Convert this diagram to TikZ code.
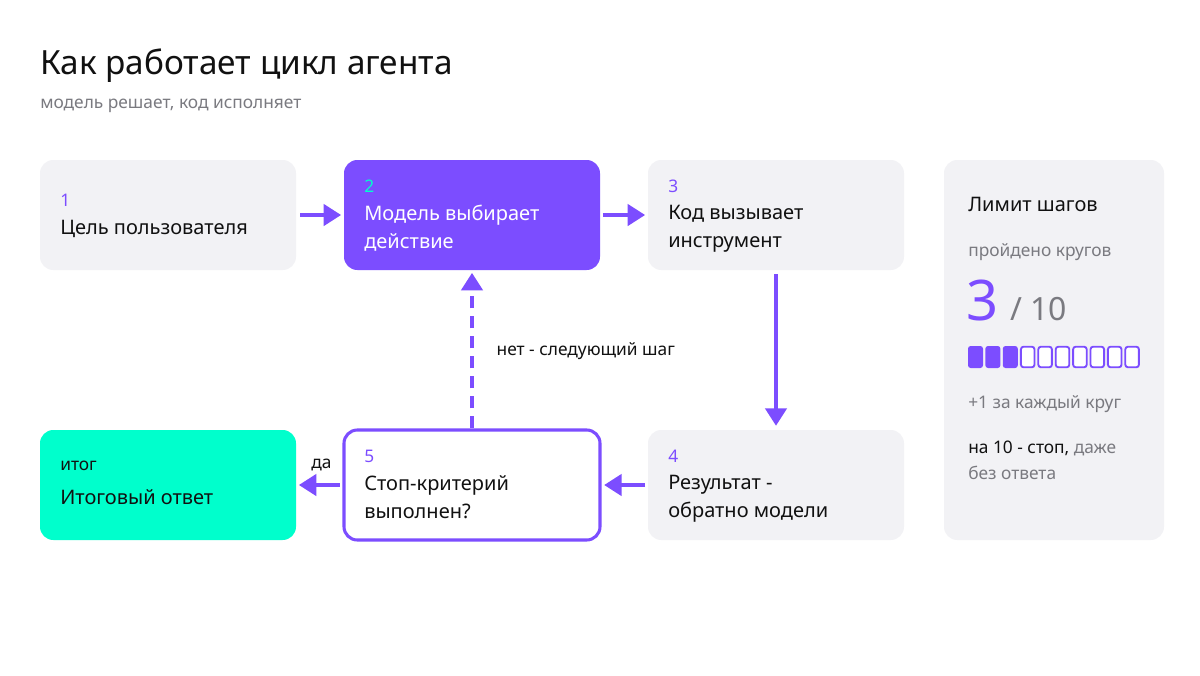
\documentclass[tikz,border=0pt]{standalone}
\usepackage{fontspec}
\setmainfont{Noto Sans}
\usetikzlibrary{arrows.meta, positioning}
\definecolor{accent}{HTML}{7C4DFF}
\definecolor{mint}{HTML}{00FFCC}
\definecolor{card}{HTML}{F2F2F5}
\definecolor{muted}{HTML}{7A7A80}
\definecolor{ink}{HTML}{111111}
\tikzset{
  stage/.style = {rectangle, rounded corners=10pt, fill=card, minimum width=192pt, minimum height=82.5pt, inner sep=0pt},
  num/.style = {anchor=west, inner sep=0pt, font=\fontsize{13}{15}\selectfont\bfseries, text=accent},
  txt/.style = {anchor=north west, inner sep=0pt, align=left, font=\fontsize{15}{21}\selectfont\bfseries, text=ink},
  flow/.style = {draw=accent, line width=2.3pt, -{Triangle[width=16pt,length=13pt]}},
}
\begin{document}
\begin{tikzpicture}[x=0.75pt, y=-0.75pt]
  \useasboundingbox (0,0) rectangle (1200,675);
  \fill[white] (0,0) rectangle (1200,675);

  % заголовок
  \node[anchor=west, inner sep=0pt, font=\fontsize{25}{30}\selectfont\bfseries, text=ink] (title) at (40,66) {Как работает цикл агента};
  \node[anchor=west, inner sep=0pt, font=\fontsize{13}{15}\selectfont, text=muted] (sub) at (40,106) {модель решает, код исполняет};

  % шаги
  \node[stage] (b1) at (168,215) {};
  \node[stage, fill=accent] (b2) at (472,215) {};
  \node[stage] (b3) at (776,215) {};
  \node[stage] (b4) at (776,485) {};
  \node[stage, fill=white, draw=accent, line width=2.3pt] (b5) at (472,485) {};
  \node[stage, fill=mint] (b6) at (168,485) {};

  \node[num] (n1) at (60,200) {1};
  \node[txt] (t1) at (60,220) {Цель пользователя};
  \node[num, text=mint] (n2) at (364,186) {2};
  \node[txt, text=white] (t2) at (364,205) {Модель выбирает\\действие};
  \node[num] (n3) at (668,186) {3};
  \node[txt] (t3) at (668,205) {Код вызывает\\инструмент};
  \node[num] (n4) at (668,456) {4};
  \node[txt] (t4) at (668,475) {Результат -\\обратно модели};
  \node[num] (n5) at (364,456) {5};
  \node[txt] (t5) at (364,475) {Стоп-критерий\\выполнен?};
  \node[txt, font=\fontsize{13}{15}\selectfont\bfseries] (n6) at (60,461) {итог};
  \node[txt] (t6) at (60,489) {Итоговый ответ};

  % связи
  \draw[flow] ([xshift=3pt]b1.east) -- ([xshift=-2pt]b2.west);
  \draw[flow] ([xshift=2pt]b2.east) -- ([xshift=-2pt]b3.west);
  \draw[flow] ([yshift=-3pt]b3.south) -- ([yshift=3pt]b4.north);
  \draw[flow] ([xshift=-2pt]b4.west) -- ([xshift=2pt]b5.east);
  \draw[flow] ([xshift=-2pt]b5.west) -- ([xshift=2pt]b6.east)
    node[pos=0.45, above=6pt, font=\fontsize{13}{15}\selectfont\bfseries, text=ink] {да};
  \draw[flow, dash pattern=on 9pt off 6pt] (b5.north) -- ([yshift=-2pt]b2.south)
    node[midway, right=14pt, font=\fontsize{13}{15}\selectfont\bfseries, text=ink] {нет - следующий шаг};

  % лимит
  \node[stage, minimum width=165pt, minimum height=285pt] (lim) at (1054,350) {};
  \node[anchor=west, inner sep=0pt, font=\fontsize{15}{18}\selectfont\bfseries, text=ink] (lt) at (968,204) {Лимит шагов};
  \node[anchor=west, inner sep=0pt, font=\fontsize{13}{15}\selectfont, text=muted] (lp) at (968,252) {пройдено кругов};
  \node[anchor=base west, inner sep=0pt, font=\fontsize{42}{46}\selectfont\bfseries, text=accent] (big) at (966,320) {3};
  \node[anchor=base west, inner sep=0pt, font=\fontsize{24}{28}\selectfont\bfseries, text=muted] (of) at (1010,320) {/ 10};
  \foreach \i in {0,...,9} {
    \ifnum\i<3
      \fill[accent, rounded corners=2pt] ({968+\i*17.4},346) rectangle ({968+\i*17.4+15},368);
    \else
      \draw[accent, fill=white, line width=1.4pt, rounded corners=2pt] ({968.7+\i*17.4},346.7) rectangle ({968+\i*17.4+14.3},367.3);
    \fi
  }
  \node[anchor=west, inner sep=0pt, font=\fontsize{13}{15}\selectfont, text=muted] (lp1) at (968,404) {+1 за каждый круг};
  \node[anchor=north west, inner sep=0pt, align=left, font=\fontsize{13}{19.5}\selectfont, text=muted] (ls) at (968,441)
    {\textcolor{ink}{\bfseries на 10 - стоп,} даже\\без ответа};
\end{tikzpicture}
\end{document}
